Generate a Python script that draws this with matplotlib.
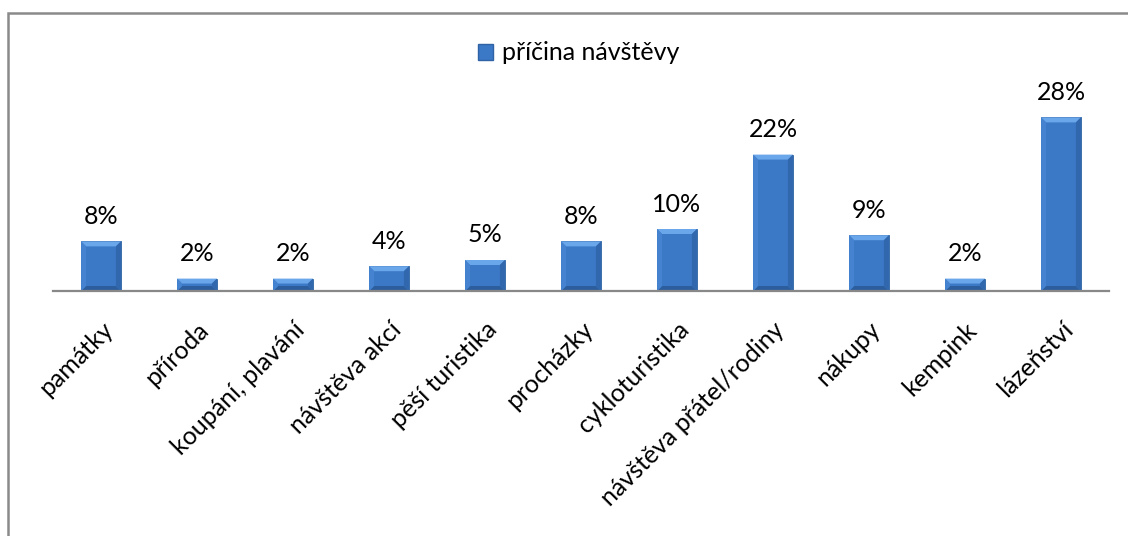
import matplotlib
matplotlib.use("Agg")
import matplotlib.pyplot as plt
import matplotlib.transforms as mtrans
from matplotlib.patches import Rectangle, Polygon

categories = ["památky", "příroda", "koupání, plavání", "návštěva akcí", "pěší turistika",
              "procházky", "cykloturistika", "návštěva přátel/rodiny", "nákupy", "kempink", "lázeňství"]
values = [8, 2, 2, 4, 5, 8, 10, 22, 9, 2, 28]
labels = ["8%", "2%", "2%", "4%", "5%", "8%", "10%", "22%", "9%", "2%", "28%"]
series_name = "příčina návštěvy"

plt.rcParams['font.family'] = ['Lato', 'DejaVu Sans']
FS = 18

W, H = 1128, 536
fig = plt.figure(figsize=(W / 100, H / 100), dpi=100)
fig.patch.set_facecolor("white")

# chart border (partially cropped at right/bottom)
fig.patches.append(Rectangle((7.5 / W, -0.05), 1.2, (H - 13) / H + 0.05,
                             transform=fig.transFigure, fill=False,
                             edgecolor="#8a8a8a", linewidth=1.8))

ax_l, ax_r, ax_b, ax_t = 53, 1109, 291, 105
ax = fig.add_axes([ax_l / W, (H - ax_b) / H, (ax_r - ax_l) / W, (ax_b - ax_t) / H])
ax.set_xlim(-0.5, len(categories) - 0.5)
ax.set_ylim(0, 30)

main_c = "#3b78c6"
bars = ax.bar(range(len(values)), values, width=0.415, color=main_c, edgecolor="#2f63a6",
              linewidth=0.6, zorder=2)

# bevel effect
px_x = (len(categories)) / (ax_r - ax_l)      # data units per pixel (x)
px_y = 30 / (ax_b - ax_t)                      # data units per pixel (y)
for b in bars:
    x0 = b.get_x(); w = b.get_width(); h = b.get_height()
    x1 = x0 + w
    bx = 5 * px_x
    by = min(5 * px_y, h * 0.4)
    ax.add_patch(Polygon([(x0, h), (x1, h), (x1 - bx, h - by), (x0 + bx, h - by)],
                         closed=True, facecolor="#6aa6ea", edgecolor="none", zorder=3))
    ax.add_patch(Polygon([(x0, 0), (x1, 0), (x1 - bx, by), (x0 + bx, by)],
                         closed=True, facecolor="#2c5d9c", edgecolor="none", zorder=3))
    ax.add_patch(Polygon([(x0, 0), (x0 + bx, by), (x0 + bx, h - by), (x0, h)],
                         closed=True, facecolor="#4583d0", edgecolor="none", zorder=3))
    ax.add_patch(Polygon([(x1, 0), (x1 - bx, by), (x1 - bx, h - by), (x1, h)],
                         closed=True, facecolor="#3167ad", edgecolor="none", zorder=3))

for i, (v, lab) in enumerate(zip(values, labels)):
    ax.annotate(lab, (i, v), xytext=(0, 18), textcoords="offset points",
                ha="center", va="center", fontsize=FS, color="black")

for s in ["top", "right", "left"]:
    ax.spines[s].set_visible(False)
ax.spines["bottom"].set_color("#888888")
ax.spines["bottom"].set_linewidth(1.6)
ax.spines["bottom"].set_zorder(4)
ax.set_yticks([])
ax.set_xticks(range(len(categories)))
ax.set_xticklabels(categories, rotation=45, ha="right", va="center",
                   rotation_mode="anchor", fontsize=FS)
ax.tick_params(axis="x", length=0, pad=25)
offset = mtrans.ScaledTranslation(8 / 100, 0, fig.dpi_scale_trans)
for t in ax.get_xticklabels():
    t.set_transform(t.get_transform() + offset)

handle = Rectangle((0, 0), 1, 1, facecolor=main_c, edgecolor="#2f63a6")
fig.legend([handle], [series_name], loc="center", bbox_to_anchor=(579 / W, (H - 53) / H),
           frameon=False, fontsize=FS, handlelength=0.6, handleheight=0.6,
           handletextpad=0.35)

fig.savefig("out.png", dpi=100)
